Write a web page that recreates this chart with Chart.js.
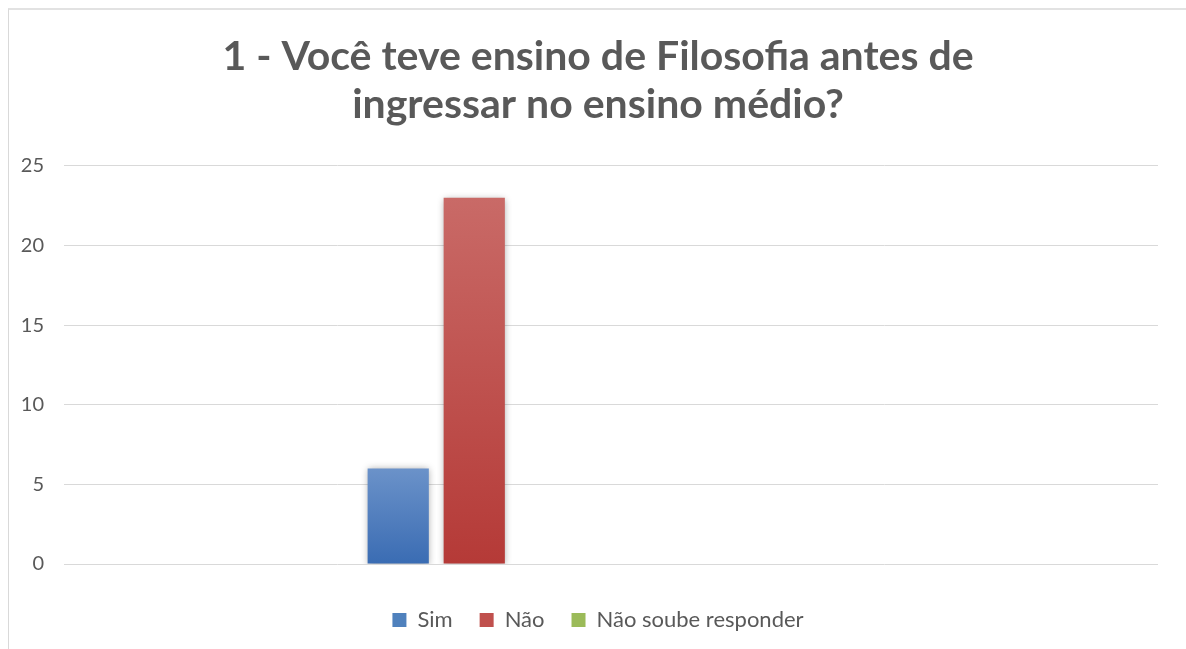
<!DOCTYPE html>
<html>
<head>
<meta charset="utf-8">
<script src="https://cdn.jsdelivr.net/npm/chart.js@4/dist/chart.umd.min.js"></script>
<style>
html, body { margin: 0; padding: 0; background: #fff; }
#wrap { position: relative; width: 1186px; height: 649px; overflow: hidden; }
#frame { position: absolute; left: 8px; top: 8px; right: -2px; bottom: -2px; border-top: 2px solid #e2e2e2; border-left: 1px solid #d9d9d9; pointer-events: none; }
</style>
</head>
<body>
<div id="wrap">
    <canvas id="chart" width="1186" height="649"></canvas>
    <div id="frame"></div>
</div>
<script>
// one real category (slot 2 of 4), as in the original sheet
const categories = ["", "", "", ""]
const seriesNames = ["Sim", "Não", "Não soube responder"]
const simValues = [null, 6, null, null]
const naoValues = [null, 23, null, null]
const naoSoubeValues = [null, 0, null, null]
const yTicks = [0, 5, 10, 15, 20, 25]
const titleLines = ["1 - Você teve ensino de Filosofia antes de", "ingressar no ensino médio?"]

const textColor = "#595959"

function barFill(top, bottom, solid) {
    return ctx => {
        if (ctx.type !== "data" || ctx.raw == null) return solid
        const y = ctx.chart.scales.y
        if (!y) return solid
        const y0 = y.getPixelForValue(ctx.raw)
        const y1 = y.getPixelForValue(0)
        if (!isFinite(y0) || y1 - y0 < 1) return solid
        const g = ctx.chart.ctx.createLinearGradient(0, y0, 0, y1)
        g.addColorStop(0, top)
        g.addColorStop(1, bottom)
        return g
    }
}

const barShadow = {
    id: "barShadow",
    beforeDatasetsDraw(chart) {
        const c = chart.ctx
        c.save()
        c.shadowColor = "rgba(0,0,0,0.35)"
        c.shadowBlur = 7
        c.shadowOffsetX = 0
        c.shadowOffsetY = 1
    },
    afterDatasetsDraw(chart) {
        chart.ctx.restore()
    }
}

new Chart(document.getElementById("chart"), {
    type: "bar",
    data: {
        labels: categories,
        datasets: [
            { label: seriesNames[0], data: simValues, backgroundColor: barFill("#6b92c9", "#3a6cb3", "#4f81bd") },
            { label: seriesNames[1], data: naoValues, backgroundColor: barFill("#c96a67", "#b53a37", "#c0504d") },
            { label: seriesNames[2], data: naoSoubeValues, backgroundColor: barFill("#aac772", "#86a845", "#9bbb59") }
        ]
    },
    plugins: [barShadow],
    options: {
        responsive: false,
        animation: false,
        categoryPercentage: 0.834,
        barPercentage: 0.805,
        layout: { padding: { top: 0, left: 10, right: 0, bottom: 8 } },
        plugins: {
            tooltip: { enabled: false },
            title: {
                display: true,
                text: titleLines,
                color: textColor,
                font: { family: "Lato, sans-serif", size: 41, weight: "bold", lineHeight: 1.17 },
                padding: { top: 33, bottom: 37 }
            },
            legend: {
                position: "bottom",
                labels: {
                    color: textColor,
                    boxWidth: 14,
                    boxHeight: 14,
                    padding: 27,
                    font: { family: "Lato, sans-serif", size: 22 }
                }
            }
        },
        scales: {
            x: {
                grid: { display: false },
                border: { display: false },
                ticks: { display: false },
                afterFit: scale => { scale.height = 18 }
            },
            y: {
                min: yTicks[0],
                max: yTicks[yTicks.length - 1],
                grid: { color: "#d9d9d9", lineWidth: 1, drawTicks: false },
                border: { display: false },
                ticks: {
                    stepSize: yTicks[1] - yTicks[0],
                    padding: 20,
                    color: textColor,
                    font: { family: "Lato, sans-serif", size: 20 }
                },
                afterFit: scale => { scale.width = 54 }
            },
            // empty right-hand margin so the plot ends where the original does
            yRight: {
                position: "right",
                grid: { display: false },
                border: { display: false },
                ticks: { display: false },
                afterFit: scale => { scale.width = 28 }
            }
        }
    }
})
</script>
</body>
</html>
